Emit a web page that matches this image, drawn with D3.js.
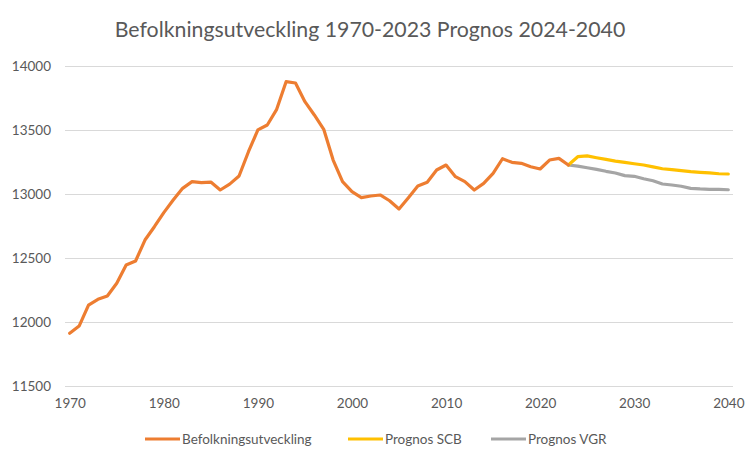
<!DOCTYPE html>
<html><head><meta charset="utf-8">
<script src="https://cdn.jsdelivr.net/npm/d3@7"></script>
<style>body{margin:0;background:#fff}svg{display:block}</style>
</head><body>
<svg id="c" width="752" height="466"></svg>
<script>
const title = "Befolkningsutveckling 1970-2023 Prognos 2024-2040";
const histYears = d3.range(1970, 2024);
const histValues = [11910,11966,12130,12175,12201,12300,12443,12474,12638,12742,
  12852,12951,13042,13094,13086,13091,13029,13075,13138,13328,
  13498,13537,13659,13875,13865,13719,13615,13503,13263,13094,
  13016,12969,12982,12990,12945,12880,12969,13060,13089,13185,
  13224,13133,13094,13029,13081,13159,13273,13245,13237,13211,
  13193,13263,13276,13224];
const progYears = d3.range(2023, 2041);
const scbValues = [13224,13289,13295,13281,13268,13255,13245,13234,13224,13210,
  13195,13188,13180,13172,13167,13162,13156,13154];
const vgrValues = [13224,13216,13203,13190,13175,13162,13141,13136,13117,13101,
  13076,13068,13058,13042,13037,13034,13034,13031];
const allYears = d3.range(1970, 2041);
const xTicks = [1970,1980,1990,2000,2010,2020,2030,2040];
const yTicks = [11500,12000,12500,13000,13500,14000];
const seriesNames = ["Befolkningsutveckling","Prognos SCB","Prognos VGR"];
const colors = ["#ED7D31","#FFC000","#A5A5A5"];

const svg = d3.select("#c");
const font = "Lato, 'Open Sans', sans-serif";
const txt = "#595959";

const x = d3.scalePoint().domain(allYears).range([65,733]).padding(0.5);
const y = d3.scaleLinear().domain([11500,14000]).range([385.7,65.7]);

svg.append("text").attr("x",370).attr("y",37).attr("text-anchor","middle")
  .attr("font-family",font).attr("font-size",21.3).attr("fill",txt).text(title);

// gridlines
svg.append("g").selectAll("line").data(yTicks).join("line")
  .attr("x1",65).attr("x2",733).attr("y1",d=>Math.round(y(d))+0.5).attr("y2",d=>Math.round(y(d))+0.5)
  .attr("stroke","#D9D9D9").attr("stroke-width",1);

// y axis labels
const yAxis = d3.axisLeft(y).tickValues(yTicks).tickFormat(d3.format("d")).tickSize(0).tickPadding(0);
const gy = svg.append("g").attr("transform","translate(51,0)").call(yAxis);
gy.select(".domain").remove();
gy.selectAll("text").attr("font-family",font).attr("font-size",13.5).attr("fill",txt);

// x axis labels
const xAxis = d3.axisBottom(x).tickValues(xTicks).tickFormat(d3.format("d")).tickSize(0).tickPadding(0);
const gx = svg.append("g").attr("transform","translate(0,398)").call(xAxis);
gx.select(".domain").remove();
gx.selectAll("text").attr("font-family",font).attr("font-size",13.5).attr("fill",txt);

const line = d3.line().x(d=>x(d[0])).y(d=>y(d[1]));
const data = [
  d3.zip(histYears, histValues),
  d3.zip(progYears, scbValues),
  d3.zip(progYears, vgrValues)
];
// draw VGR, SCB, then historical on top
[2,1,0].forEach(i=>{
  svg.append("path").datum(data[i]).attr("d",line).attr("fill","none")
    .attr("stroke",colors[i]).attr("stroke-width",3.2).attr("stroke-linejoin","round").attr("stroke-linecap","round");
});

// legend
const legendX = [145,348,491];
const lg = svg.append("g");
seriesNames.forEach((n,i)=>{
  lg.append("line").attr("x1",legendX[i]).attr("x2",legendX[i]+35).attr("y1",439).attr("y2",439)
    .attr("stroke",colors[i]).attr("stroke-width",3.2);
  lg.append("text").attr("x",legendX[i]+37).attr("y",439).attr("dy","0.35em")
    .attr("font-family",font).attr("font-size",13.5).attr("fill",txt).text(n);
});
</script>
</body></html>
